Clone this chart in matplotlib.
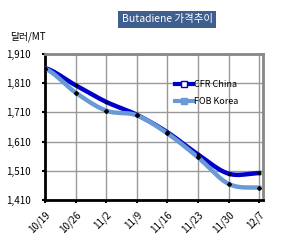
import numpy as np
import matplotlib
matplotlib.use('Agg')
import matplotlib.pyplot as plt

plt.rcParams['font.family'] = ['Noto Sans CJK KR', 'DejaVu Sans']

# 데이터
dates = ['10/19', '10/26', '11/2', '11/9', '11/16', '11/23', '11/30', '12/7']
cfr_china = [1862, 1803, 1746, 1702, 1642, 1566, 1500, 1502]
fob_korea = [1860, 1778, 1716, 1700, 1638, 1556, 1465, 1452]
yticks = [1410, 1510, 1610, 1710, 1810, 1910]


def smooth(y, n=20):
    # 엑셀식 곡선 (Catmull-Rom)
    y = np.asarray(y, dtype=float)
    p = np.concatenate([[y[0]], y, [y[-1]]])
    xs, ys = [], []
    for i in range(len(y) - 1):
        t = np.linspace(0, 1, n, endpoint=False)
        p0, p1, p2, p3 = p[i], p[i + 1], p[i + 2], p[i + 3]
        v = 0.5 * (2 * p1 + (-p0 + p2) * t + (2 * p0 - 5 * p1 + 4 * p2 - p3) * t ** 2
                   + (-p0 + 3 * p1 - 3 * p2 + p3) * t ** 3)
        xs.extend(i + t)
        ys.extend(v)
    xs.append(len(y) - 1)
    ys.append(y[-1])
    return np.array(xs), np.array(ys)


fig = plt.figure(figsize=(3.0, 2.48), dpi=100)
ax = fig.add_axes([0.15, 0.194, 0.727, 0.588])

x = np.arange(len(dates))
sx, sy = smooth(cfr_china)
ax.plot(sx, sy, color='#0000CC', lw=3.2, zorder=3)
ax.plot(x, cfr_china, 's', ms=2, color='black', zorder=5)
sx, sy = smooth(fob_korea)
ax.plot(sx, sy, color='#6A9AD6', lw=3.2, zorder=4)
ax.plot(x, fob_korea, 'D', ms=2, color='black', zorder=5)

# 범례용
ax.plot([], [], color='#0000CC', lw=3, marker='s', ms=4, mfc='white', mec='#0000CC', label='CFR China')
ax.plot([], [], color='#6A9AD6', lw=3, marker='s', ms=4, mfc='#6A9AD6', mec='#6A9AD6', label='FOB Korea')
ax.legend(loc='upper left', bbox_to_anchor=(0.56, 0.88), frameon=False, fontsize=6.5,
          handlelength=2.0, handletextpad=0.1, labelspacing=0.9)

ax.set_xlim(0, 7.13)
ax.set_ylim(1410, 1910)
ax.set_yticks(yticks)
ax.set_yticklabels(['{:,}'.format(v) for v in yticks], fontsize=7)
ax.set_xticks(x)
ax.set_xticklabels(dates, fontsize=7, rotation=45, ha='right', va='top', rotation_mode='anchor')
ax.tick_params(axis='both', length=2, width=1.5, direction='out')
ax.tick_params(axis='y', pad=8)
ax.tick_params(axis='x', pad=5)
ax.grid(True, color='#999999', lw=1)

for s in ['left', 'bottom']:
    ax.spines[s].set_color('black')
    ax.spines[s].set_linewidth(2)
for s in ['right', 'top']:
    ax.spines[s].set_color('#888888')
    ax.spines[s].set_linewidth(2)

fig.text(0.557, 0.922, 'Butadiene 가격추이', fontsize=7.5, color='white', ha='center', va='center',
         bbox=dict(facecolor='#3F5F8F', edgecolor='none', pad=2.5))
fig.text(0.035, 0.85, '달러/MT', fontsize=7, ha='left', va='center')

fig.savefig('out.png', dpi=100)
